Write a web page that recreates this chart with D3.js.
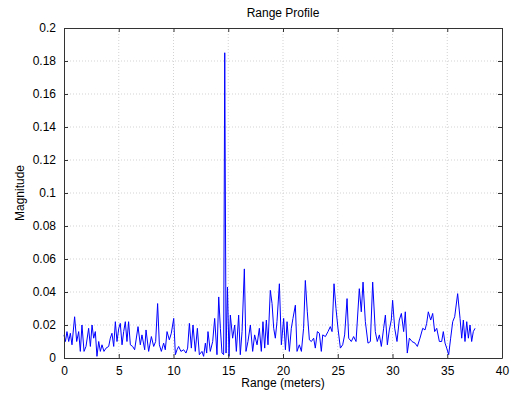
<!DOCTYPE html>
<html><head><meta charset="utf-8">
<script src="https://cdn.jsdelivr.net/npm/d3@7"></script>
<style>body{margin:0;background:#fff;}svg{display:block;font-family:"Liberation Sans",Arial,sans-serif;}</style>
</head><body>
<svg id="c" width="525" height="393"></svg>
<script>
const ranges = [0.0,0.13,0.27,0.43,0.58,0.73,0.97,1.16,1.34,1.49,1.64,1.83,2.01,2.25,2.41,2.56,2.71,2.86,3.01,3.17,3.32,3.47,3.65,3.84,4.08,4.23,4.38,4.54,4.69,4.84,5.0,5.14,5.3,5.45,5.6,5.75,5.9,6.06,6.27,6.45,6.76,6.97,7.12,7.37,7.49,7.73,7.98,8.19,8.37,8.55,8.71,8.89,9.1,9.25,9.41,9.62,9.8,10.02,10.17,10.32,10.47,10.68,10.93,11.14,11.29,11.45,11.63,11.78,11.99,12.18,12.36,12.6,12.75,12.91,13.03,13.15,13.36,13.58,13.76,13.97,14.13,14.28,14.43,14.58,14.68,14.8,14.93,15.07,15.19,15.4,15.59,15.74,15.95,16.1,16.26,16.47,16.62,16.8,17.02,17.23,17.41,17.63,17.84,18.02,18.17,18.33,18.48,18.63,18.84,19.0,19.15,19.3,19.45,19.67,19.85,20.06,20.22,20.37,20.58,20.76,20.91,21.13,21.28,21.49,21.68,21.88,22.04,22.22,22.41,22.59,22.8,22.95,23.14,23.32,23.5,23.63,23.87,24.11,24.32,24.48,24.66,24.84,25.02,25.24,25.45,25.63,25.85,26.0,26.24,26.45,26.67,26.97,27.15,27.31,27.52,27.76,27.98,28.19,28.43,28.61,28.8,28.98,29.19,29.35,29.53,29.71,29.89,30.01,30.2,30.41,30.62,30.81,31.02,31.17,31.35,31.54,31.78,32.06,32.27,32.51,32.76,32.97,33.12,33.27,33.49,33.67,33.85,34.04,34.28,34.49,34.64,34.8,34.95,35.13,35.31,35.5,35.68,35.95,36.17,36.32,36.47,36.62,36.78,36.93,37.08,37.23,37.38,37.54];
const magnitudes = [0.014,0.010,0.016,0.010,0.015,0.008,0.025,0.010,0.016,0.004,0.020,0.004,0.007,0.018,0.007,0.020,0.012,0.016,0.001,0.010,0.004,0.008,0.004,0.006,0.007,0.012,0.015,0.007,0.022,0.010,0.018,0.021,0.008,0.016,0.022,0.010,0.022,0.008,0.007,0.005,0.019,0.008,0.014,0.005,0.017,0.004,0.013,0.007,0.010,0.033,0.008,0.004,0.009,0.005,0.016,0.011,0.015,0.024,0.002,0.005,0.007,0.004,0.005,0.003,0.006,0.021,0.006,0.020,0.004,0.018,0.002,0.004,0.001,0.009,0.003,0.016,0.004,0.010,0.024,0.002,0.037,0.018,0.003,0.002,0.185,0.003,0.043,0.001,0.026,0.012,0.020,0.004,0.026,0.002,0.016,0.054,0.004,0.010,0.020,0.004,0.014,0.008,0.018,0.004,0.022,0.006,0.023,0.008,0.041,0.033,0.018,0.012,0.022,0.045,0.008,0.024,0.005,0.022,0.004,0.018,0.024,0.032,0.004,0.008,0.004,0.018,0.047,0.028,0.011,0.010,0.012,0.006,0.016,0.015,0.004,0.014,0.013,0.016,0.019,0.016,0.045,0.030,0.018,0.006,0.008,0.014,0.036,0.012,0.010,0.013,0.010,0.042,0.028,0.046,0.022,0.009,0.010,0.046,0.016,0.010,0.014,0.007,0.018,0.026,0.008,0.017,0.023,0.035,0.018,0.010,0.023,0.027,0.016,0.028,0.003,0.012,0.010,0.009,0.007,0.012,0.018,0.017,0.021,0.028,0.023,0.027,0.016,0.018,0.010,0.010,0.016,0.009,0.006,0.002,0.012,0.022,0.025,0.039,0.024,0.012,0.023,0.010,0.022,0.012,0.020,0.010,0.016,0.018];
const xTicks = [0,5,10,15,20,25,30,35,40];
const yTicks = [0,0.02,0.04,0.06,0.08,0.1,0.12,0.14,0.16,0.18,0.2];
const titleText = "Range Profile";
const xLabel = "Range (meters)";
const yLabel = "Magnitude";

const svg = d3.select("#c");
const L = 64, R = 502, T = 28, B = 358;
const x = d3.scaleLinear().domain([0,40]).range([L,R]);
const y = d3.scaleLinear().domain([0,0.2]).range([B,T]);

// grid
const g = svg.append("g");
g.selectAll(".gx").data(xTicks.slice(1,-1)).join("line")
  .attr("x1",d=>x(d)).attr("x2",d=>x(d)).attr("y1",T).attr("y2",B)
  .attr("stroke","#c8c8c8").attr("stroke-width",0.8).attr("stroke-dasharray","1,2");
g.selectAll(".gy").data(yTicks.slice(1,-1)).join("line")
  .attr("y1",d=>y(d)).attr("y2",d=>y(d)).attr("x1",L).attr("x2",R)
  .attr("stroke","#c8c8c8").attr("stroke-width",0.8).attr("stroke-dasharray","1,2");

// data line
const pts = ranges.map((r,i)=>[r,magnitudes[i]]);
svg.append("path").datum(pts)
  .attr("d", d3.line().x(d=>x(d[0])).y(d=>y(d[1])))
  .attr("fill","none").attr("stroke","#0000ff").attr("stroke-width",1);

// axes (ticks inward, MATLAB style)
const fmt = d=>String(+d.toFixed(2));
const axB = svg.append("g").attr("transform",`translate(0,${B})`)
  .call(d3.axisBottom(x).tickValues(xTicks).tickSizeInner(-4).tickSizeOuter(0).tickPadding(8).tickFormat(fmt));
const axT = svg.append("g").attr("transform",`translate(0,${T})`)
  .call(d3.axisTop(x).tickValues(xTicks).tickSizeInner(-4).tickSizeOuter(0).tickFormat(""));
const axL = svg.append("g").attr("transform",`translate(${L},0)`)
  .call(d3.axisLeft(y).tickValues(yTicks).tickSizeInner(-4).tickSizeOuter(0).tickPadding(8).tickFormat(fmt));
const axR = svg.append("g").attr("transform",`translate(${R},0)`)
  .call(d3.axisRight(y).tickValues(yTicks).tickSizeInner(-4).tickSizeOuter(0).tickFormat(""));
[axB,axT,axL,axR].forEach(a=>{
  a.selectAll("path.domain").attr("stroke","#333").attr("stroke-width",1);
  a.selectAll(".tick line").attr("stroke","#333");
  a.selectAll("text").attr("font-size",12).attr("fill","#000").attr("font-family","Liberation Sans, Arial, sans-serif");
});

svg.append("text").attr("x",(L+R)/2).attr("y",17).attr("text-anchor","middle")
  .attr("font-size",12).text(titleText);
svg.append("text").attr("x",(L+R)/2).attr("y",387).attr("text-anchor","middle")
  .attr("font-size",12).text(xLabel);
svg.append("text").attr("transform",`translate(24,${(T+B)/2}) rotate(-90)`).attr("text-anchor","middle")
  .attr("font-size",12).text(yLabel);
</script>
</body></html>
